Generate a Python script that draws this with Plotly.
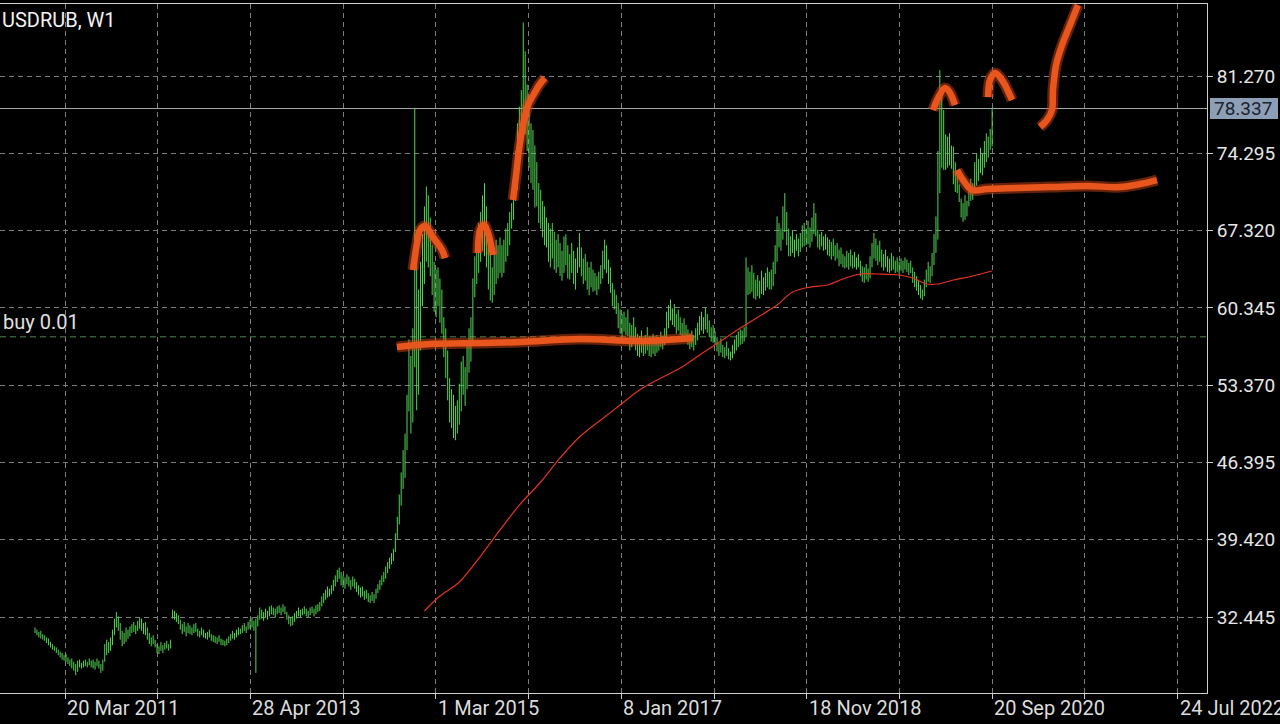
import plotly.graph_objects as go

# ---------------- data ----------------
symbol_title = "USDRUB, W1"

# weekly bar highs / lows, one value per bar (bar index = position on the chart)
bar_high = [
    31.5, 31.3, 31.1, 31.2, 30.9, 30.8, 30.6, 30.5, 30.2, 30.0,
    29.8, 29.7, 29.5, 29.3, 29.2, 29.0, 29.1, 28.8, 28.6, 28.7,
    28.4, 28.2, 28.5, 28.6, 28.3, 28.5, 28.6, 28.4, 28.7, 28.5,
    28.6, 28.4, 28.7, 28.5, 28.2, 28.6, 30.0, 30.4, 30.2, 30.6,
    31.3, 32.3, 32.9, 32.5, 31.9, 31.2, 31.0, 31.5, 31.3, 31.6,
    31.8, 32.0, 31.7, 32.1, 32.4, 32.3, 31.9, 32.0, 31.5, 31.0,
    30.6, 30.8, 30.4, 30.0, 29.8, 30.2, 29.9, 30.1, 30.3, 30.0,
    30.4, 33.1, 33.0, 32.8, 32.6, 32.2, 31.8, 32.0, 31.6, 31.9,
    31.7, 31.5, 31.8, 31.9, 31.4, 31.2, 31.5, 31.3, 31.0, 31.1,
    31.3, 30.9, 30.8, 30.7, 30.6, 30.8, 30.5, 30.4, 30.3, 30.5,
    30.7, 30.9, 31.2, 31.0, 31.3, 31.5, 31.4, 31.7, 31.9, 31.6,
    32.0, 32.2, 32.4, 32.1, 32.3, 32.6, 33.3, 33.1, 32.9, 33.2,
    33.0, 33.4, 33.5, 33.3, 33.2, 33.4, 33.5, 33.3, 33.6, 33.4,
    32.9, 32.6, 32.4, 32.5, 32.8, 33.0, 33.3, 33.1, 33.2, 33.4,
    33.2, 33.0, 33.3, 33.4, 33.2, 33.5, 33.6, 33.8, 34.3, 34.6,
    34.9, 35.2, 35.0, 35.3, 35.8, 36.2, 36.7, 36.9, 36.5, 36.2,
    36.0, 36.3, 36.1, 35.8, 36.1, 35.9, 35.6, 35.3, 35.1, 35.2,
    34.8, 34.9, 34.6, 34.4, 34.7, 34.5, 35.0, 35.4, 35.8, 36.2,
    36.5, 37.0, 37.4, 37.8, 38.2, 38.6, 40.0, 41.5, 43.5, 45.5,
    47.5, 49.0, 52.5, 57.5, 56.0, 58.5, 78.4, 64.4, 62.0, 64.5,
    67.0, 69.5, 71.3, 70.5, 68.5, 66.0, 64.5, 63.8, 64.0, 63.0,
    62.0, 59.5, 58.5, 56.5, 54.0, 53.0, 52.5, 51.5, 52.0, 53.5,
    55.5, 56.0, 55.0, 57.0, 58.5, 59.5, 63.0, 65.0, 66.5, 68.0,
    69.0, 70.5, 71.6, 69.5, 67.5, 65.5, 64.0, 65.5, 66.5, 66.0,
    66.7, 66.0, 66.5, 67.5, 68.0, 69.0, 69.8, 72.0, 74.5, 77.0,
    78.5, 80.0, 86.1, 83.5, 80.5, 78.2, 77.0, 76.4, 75.0, 73.5,
    71.6, 71.0, 70.0, 69.5, 68.5, 68.0, 67.5, 68.0, 67.2, 66.5,
    67.0, 66.2, 65.5, 66.8, 67.0, 66.0, 65.2, 66.2, 65.5, 64.8,
    65.8, 67.1, 65.8, 64.8, 65.2, 64.5, 64.0, 64.5, 63.8, 63.5,
    63.2, 63.6, 64.2, 65.5, 66.5, 66.0, 64.7, 64.0, 62.6, 62.0,
    61.5, 60.8, 60.2, 59.8, 60.0, 59.5, 60.2, 59.0, 58.8, 59.5,
    58.6, 58.0, 57.8, 58.3, 57.5, 57.9, 58.6, 57.8, 57.6, 58.0,
    57.5, 57.9, 57.7, 58.2, 57.8, 58.5, 60.0, 60.6, 61.1, 60.3,
    60.7, 59.8, 60.2, 59.5, 59.0, 59.4, 58.8, 58.4, 58.0, 58.3,
    57.9, 58.5, 59.0, 59.6, 60.0, 59.5, 60.4, 59.8, 59.2, 58.6,
    58.8, 58.2, 57.7, 57.2, 57.6, 57.0, 56.8, 57.3, 56.7, 56.4,
    57.0, 57.5, 57.9, 58.2, 58.4, 58.3, 58.6, 64.9, 64.0, 63.6,
    64.2, 63.5, 62.9, 63.3, 62.8, 63.7, 63.1, 63.5, 64.0, 63.6,
    63.8, 64.5, 66.0, 68.6, 68.0, 67.5, 69.5, 70.7, 69.0, 67.5,
    66.8, 67.3, 66.5, 67.0, 66.6, 67.1, 67.8, 68.0, 67.5, 68.2,
    67.6, 68.5, 69.8, 68.9, 67.4, 67.0, 67.2, 66.8, 67.0, 66.7,
    66.5, 66.3, 66.6, 66.0, 66.2, 65.6, 65.8, 65.2, 65.0, 65.5,
    65.3, 65.6, 65.1, 65.4, 64.9, 65.2, 64.6, 64.1, 64.0, 64.3,
    63.9, 65.0, 66.2, 67.1, 66.6, 66.0, 66.4, 65.6, 65.2, 65.6,
    65.0, 64.8, 65.3, 65.0, 64.6, 64.9, 64.5, 64.8, 64.6, 64.9,
    64.7, 64.4, 64.6, 64.0, 63.6, 63.2, 62.8, 62.4, 62.0, 62.9,
    63.8, 64.5, 64.1, 65.3, 67.0, 68.6, 74.5, 81.8, 80.0, 78.2,
    76.0, 75.8, 76.1, 75.0, 74.9, 73.5, 72.5, 71.5, 70.2, 69.8,
    70.5, 70.0, 71.5, 72.0, 71.6, 73.5, 74.3, 73.8, 74.8, 74.3,
    75.4, 76.1, 75.8, 76.5, 78.4,
]
bar_low = [
    31.0, 30.8, 30.6, 30.5, 30.4, 30.3, 30.1, 29.9, 29.7, 29.5,
    29.4, 29.2, 29.0, 28.8, 28.6, 28.5, 28.4, 28.2, 28.0, 27.8,
    27.6, 27.2, 27.5, 27.9, 27.8, 27.9, 28.0, 27.9, 28.1, 27.9,
    27.8, 27.7, 28.0, 27.8, 27.4, 27.6, 28.4, 29.0, 29.2, 29.4,
    29.9, 30.8, 31.5, 31.2, 30.4, 29.8, 30.0, 30.2, 30.5, 30.7,
    31.0, 31.1, 30.9, 31.2, 31.4, 31.2, 30.9, 30.8, 30.4, 30.0,
    29.8, 30.0, 29.7, 29.2, 29.1, 29.4, 29.2, 29.5, 29.6, 29.4,
    29.6, 32.3, 32.2, 32.0, 31.8, 31.3, 30.9, 31.1, 30.7, 31.0,
    30.9, 30.8, 31.0, 31.1, 30.7, 30.6, 30.8, 30.6, 30.5, 30.4,
    30.6, 30.3, 30.2, 30.1, 30.0, 30.2, 29.9, 29.9, 29.8, 29.9,
    30.1, 30.3, 30.5, 30.4, 30.6, 30.8, 30.9, 31.0, 31.2, 31.0,
    31.3, 31.4, 31.5, 31.2, 27.4, 31.6, 32.2, 32.3, 32.1, 32.4,
    32.2, 32.5, 32.7, 32.6, 32.4, 32.7, 32.8, 32.6, 32.9, 32.7,
    32.2, 31.8, 31.6, 31.7, 32.0, 32.3, 32.5, 32.4, 32.6, 32.7,
    32.5, 32.4, 32.6, 32.8, 32.5, 32.7, 32.9, 33.0, 33.4, 33.7,
    34.0, 34.2, 34.3, 34.5, 34.8, 35.2, 35.6, 35.9, 35.3, 35.1,
    35.0, 35.4, 35.2, 34.9, 35.2, 35.0, 34.7, 34.4, 34.2, 34.3,
    34.0, 34.1, 33.8, 33.7, 33.9, 33.7, 34.1, 34.6, 34.9, 35.3,
    35.6, 35.9, 36.4, 36.8, 37.2, 37.5, 38.3, 39.5, 40.8, 42.5,
    44.0, 45.0, 47.5, 51.0, 49.0, 50.0, 55.0, 51.1, 52.5, 56.5,
    60.5, 62.5, 64.5, 64.0, 63.2, 61.5, 60.0, 59.5, 60.5, 59.0,
    58.0, 55.9, 54.0, 52.0, 50.0, 49.5, 48.6, 48.4, 49.0, 49.8,
    51.0, 52.5, 51.5, 53.0, 54.5, 55.5, 57.0, 61.3, 62.5, 63.5,
    64.5, 65.5, 65.0, 64.0, 62.0, 61.0, 60.8, 61.5, 62.5, 63.0,
    63.5, 63.1, 63.5, 64.5, 65.0, 66.0, 67.5, 68.3, 70.0, 71.0,
    74.0, 75.0, 77.3, 76.0, 74.5, 73.0, 71.6, 71.0, 69.4, 69.5,
    68.0, 67.5, 66.7, 66.0, 65.8, 64.5, 64.0, 64.8, 63.8, 63.5,
    64.0, 63.2, 62.8, 63.5, 64.2, 63.0, 62.9, 63.5, 62.5, 62.0,
    63.5, 64.0, 63.2, 62.5, 62.8, 62.0, 61.5, 62.2, 61.8, 61.9,
    61.5, 62.0, 62.5, 63.0, 63.8, 63.5, 62.5, 61.7, 60.5, 60.2,
    59.8, 58.5, 58.0, 57.7, 58.2, 57.9, 57.8, 56.5, 56.8, 57.2,
    56.5, 56.0, 55.9, 56.3, 56.0, 56.2, 56.5, 56.0, 55.9, 56.2,
    56.0, 56.3, 56.5, 56.8, 56.6, 57.0, 57.5, 58.5, 59.2, 58.8,
    58.6, 58.0, 58.3, 57.9, 57.7, 57.8, 57.5, 57.0, 56.6, 56.8,
    56.5, 57.0, 57.4, 57.9, 58.3, 58.0, 58.4, 58.1, 57.7, 57.3,
    57.2, 57.0, 56.4, 56.0, 56.3, 55.9, 55.8, 56.0, 55.7, 55.6,
    55.8, 56.2, 56.5, 56.8, 57.0, 57.1, 57.3, 57.7, 61.5, 61.6,
    61.8, 61.2, 61.1, 61.4, 61.2, 61.6, 61.5, 61.9, 62.2, 62.0,
    62.0, 62.3, 63.4, 64.5, 65.8, 65.5, 66.5, 67.2, 66.0, 65.0,
    65.0, 65.3, 64.9, 65.5, 65.0, 65.4, 65.8, 65.9, 66.0, 66.1,
    65.8, 66.3, 67.0, 66.8, 65.8, 65.6, 65.9, 65.5, 65.6, 65.1,
    65.0, 64.7, 65.0, 64.6, 64.8, 64.1, 64.3, 64.0, 63.9, 64.0,
    63.8, 64.1, 63.9, 64.0, 63.8, 64.0, 63.2, 62.7, 62.6, 62.9,
    62.7, 63.0, 64.0, 64.8, 64.6, 64.2, 64.5, 64.0, 63.7, 64.0,
    63.6, 63.5, 63.7, 63.8, 63.5, 63.6, 63.4, 63.7, 63.5, 63.8,
    63.6, 63.3, 63.5, 62.6, 62.2, 61.9, 61.5, 61.2, 61.05, 61.4,
    62.2, 62.7, 62.6, 63.2, 64.2, 65.3, 66.5, 70.7, 73.0, 72.8,
    72.8, 73.0, 73.2, 72.9, 71.5, 70.8, 70.7, 69.9, 68.5, 68.1,
    68.3, 68.6, 69.5, 70.0, 70.1, 70.8, 71.4, 71.8, 72.5, 72.3,
    73.0, 73.5, 73.9, 74.6, 74.9,
]

# 200-period moving average (red line), sampled vertices: bar index -> value
ma_bar = [201, 209, 219, 230, 240, 250, 261, 271, 281, 292, 302, 312, 323, 333, 343, 354,
          364, 374, 383, 391, 400, 409, 417, 426, 435, 446, 453, 460, 466, 474, 484, 494]
ma_value = [32.99, 34.34, 35.60, 37.95, 40.30, 42.55, 44.63, 46.80, 48.69, 50.22, 51.58,
            52.93, 54.01, 54.92, 56.09, 57.35, 58.53, 59.61, 60.60, 61.77, 62.22, 62.41,
            62.95, 63.40, 63.40, 63.31, 63.04, 62.50, 62.50, 62.86, 63.22, 63.67]

price_ticks = [32.445, 39.420, 46.395, 53.370, 60.345, 67.320, 74.295, 81.270]
date_labels = ["20 Mar 2011", "28 Apr 2013", "1 Mar 2015", "8 Jan 2017",
               "18 Nov 2018", "20 Sep 2020", "24 Jul 2022"]
date_label_bar = [15.5, 111.2, 206.9, 302.6, 398.3, 494.0, 589.7]
grid_bar = [15.5, 63.35, 111.2, 159.05, 206.9, 254.75, 302.6, 350.45,
            398.3, 446.15, 494.0, 541.85, 589.7]

last_price = 78.337
order_price = 57.73
order_label = "buy 0.01"

# hand-drawn orange marks (bar index, price)
stroke_support_bar = [186.8, 203.9, 229.7, 250.3, 281.3, 312.3, 339.6]
stroke_support_price = [56.81, 57.08, 57.17, 57.26, 57.53, 57.35, 57.62]
stroke_cap1_bar = [195.1, 197.2, 198.7, 201.3, 205.4, 210.1, 211.6]
stroke_cap1_price = [63.76, 66.20, 67.37, 67.73, 66.74, 65.57, 64.84]
stroke_cap2_bar = [228.6, 229.7, 231.7, 233.8, 236.4]
stroke_cap2_price = [65.30, 67.37, 67.82, 67.10, 65.12]
stroke_rise_bar = [246.7, 248.3, 249.8, 251.9, 254.5, 258.1, 260.6, 263.2]
stroke_rise_price = [70.08, 72.33, 74.59, 76.85, 78.65, 79.83, 80.55, 81.09]
stroke_cap3_bar = [463.5, 466.1, 469.7, 472.3, 474.8]
stroke_cap3_price = [78.20, 79.28, 80.19, 79.74, 78.65]
stroke_cap4_bar = [491.9, 492.9, 495.5, 499.1, 504.3]
stroke_cap4_price = [79.37, 80.91, 81.54, 80.91, 79.10]
stroke_level_bar = [475.9, 479.0, 483.6, 491.4, 506.8, 523.9, 543.0, 560.0, 570.3, 579.1]
stroke_level_price = [72.79, 71.88, 70.98, 71.07, 71.16, 71.25, 71.34, 71.25, 71.52, 71.88]
stroke_up_bar = [518.7, 522.3, 524.9, 525.4, 527.0, 530.1, 534.2, 538.3]
stroke_up_price = [76.67, 77.30, 78.20, 80.01, 82.26, 84.07, 85.87, 87.68]

# ---------------- figure ----------------
n = min(len(bar_high), len(bar_low))
bx, by = [], []
for i in range(n):
    bx += [i, i, None]
    by += [bar_low[i], bar_high[i], None]

fig = go.Figure()
fig.add_trace(go.Scatter(x=bx, y=by, mode="lines",
                         line=dict(color="#52d652", width=1.0), hoverinfo="skip"))
fig.add_trace(go.Scatter(x=ma_bar, y=ma_value, mode="lines", line_shape="spline",
                         line=dict(color="#e2341f", width=1.2), hoverinfo="skip"))

strokes = [
    (stroke_support_bar, stroke_support_price),
    (stroke_cap1_bar, stroke_cap1_price),
    (stroke_cap2_bar, stroke_cap2_price),
    (stroke_rise_bar, stroke_rise_price),
    (stroke_cap3_bar, stroke_cap3_price),
    (stroke_cap4_bar, stroke_cap4_price),
    (stroke_level_bar, stroke_level_price),
    (stroke_up_bar, stroke_up_price),
]
for sx, sy in strokes:
    fig.add_trace(go.Scatter(x=sx, y=sy, mode="lines", line_shape="spline",
                             line=dict(color="rgba(225,75,25,0.45)", width=11),
                             hoverinfo="skip"))
    fig.add_trace(go.Scatter(x=sx, y=sy, mode="lines", line_shape="spline",
                             line=dict(color="#e8561d", width=6.5),
                             hoverinfo="skip"))

W, H = 1280, 724
ML, MR, MT, MB = 0, 73, 4, 31
plot_w = W - ML - MR

axis_col = "#cfcfcf"
grid_col = "#7c7c7c"
text_col = "#e6e6e6"
font_family = "Roboto, Liberation Sans, sans-serif"

fig.update_layout(
    width=W, height=H,
    margin=dict(l=ML, r=MR, t=MT, b=MB, pad=0),
    paper_bgcolor="#000000", plot_bgcolor="#000000",
    showlegend=False,
    font=dict(family=font_family, color=text_col),
    xaxis=dict(range=[-18.06, 604.9], tickvals=grid_bar, showticklabels=False,
               ticks="outside", ticklen=5, tickcolor=axis_col, tickwidth=1,
               showgrid=True, gridcolor=grid_col, griddash="5px,4px", gridwidth=1,
               showline=True, linecolor=axis_col, linewidth=1, mirror=True,
               zeroline=False, fixedrange=True),
    yaxis=dict(side="right", range=[25.586, 87.77], tickvals=price_ticks,
               ticktext=[f"{v:.3f}" for v in price_ticks],
               ticks="outside", ticklen=5, tickcolor=axis_col, tickwidth=1,
               tickfont=dict(size=19, color=text_col, family=font_family),
               showgrid=True, gridcolor=grid_col, griddash="5px,4px", gridwidth=1,
               showline=True, linecolor=axis_col, linewidth=1,
               zeroline=False, fixedrange=True),
)

# current price line and order line
fig.add_shape(type="line", xref="paper", yref="y", x0=0, x1=1, y0=last_price, y1=last_price,
              line=dict(color="#a8a8a8", width=1), layer="below")
fig.add_shape(type="line", xref="paper", yref="y", x0=0, x1=1, y0=order_price, y1=order_price,
              line=dict(color="#4f8a4f", width=1, dash="6px,4px"), layer="below")

# price box on the right axis
box_half = 10.5 / 11.08
fig.add_shape(type="rect", xref="paper", yref="y",
              x0=1210 / plot_w, x1=1278 / plot_w,
              y0=last_price - box_half, y1=last_price + box_half,
              line=dict(width=0), fillcolor="#8d9fb5", layer="above")
fig.add_annotation(x=1, xref="paper", y=last_price, yref="y", xanchor="left",
                   yanchor="middle", xshift=5, text=f"{last_price:.3f}", showarrow=False,
                   font=dict(size=19, color="#1b2230", family=font_family))

# title and order label
fig.add_annotation(x=0, xref="paper", y=1, yref="paper", xanchor="left", yanchor="top",
                   xshift=0, yshift=-2, text=symbol_title, showarrow=False,
                   font=dict(size=20, color="#f2f2f2", family=font_family))
fig.add_annotation(x=0, xref="paper", y=order_price, yref="y", xanchor="left",
                   yanchor="bottom", xshift=1, yshift=1, text=order_label, showarrow=False,
                   font=dict(size=20, color="#e0e0e0", family=font_family))

# date labels, left-aligned at their ticks
for lab, pos in zip(date_labels, date_label_bar):
    fig.add_annotation(x=pos, xref="x", y=0, yref="paper", xanchor="left", yanchor="top",
                       yshift=-1, text=lab, showarrow=False,
                       font=dict(size=20, color="#dcdcdc", family=font_family))

fig.write_html("out.html", config={"displayModeBar": False},
               post_script="document.body.style.margin='0px';"
                           "document.body.style.overflow='hidden';")
